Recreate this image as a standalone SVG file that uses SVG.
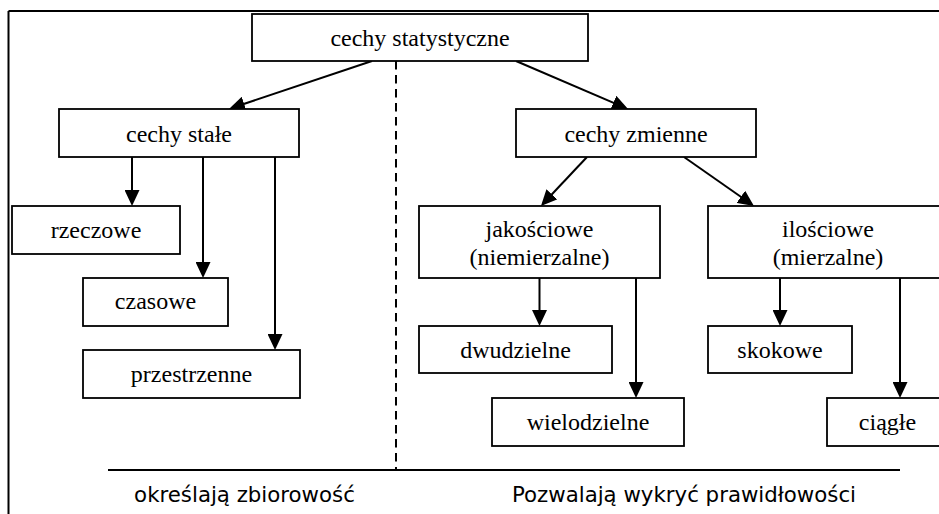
<svg xmlns="http://www.w3.org/2000/svg" width="939" height="514" viewBox="0 0 939 514">
  <style>
    .box { fill: #fff; stroke: #000; stroke-width: 1.8; }
    .lbl { font-size: 24px; fill: #000; text-anchor: middle; }
    .note { font-size: 21.3px; fill: #000; text-anchor: middle; }
    .edge { fill: none; stroke: #000; stroke-width: 2; marker-end: url(#head); }
    .rule { fill: none; stroke: #000; stroke-width: 2; }
  </style>
  <defs>
    <marker id="head" markerUnits="userSpaceOnUse" markerWidth="16" markerHeight="15" refX="13" refY="7.5" orient="auto">
      <path d="M0,0 L16,7.5 L0,15 Z" fill="#000"/>
    </marker>
  </defs>

  <rect width="939" height="514" fill="#fff"/>

  <!-- outer frame (top and left edges) -->
  <g id="frame">
    <line class="rule" x1="8.5" y1="11" x2="939" y2="11"/>
    <line class="rule" x1="8.5" y1="11" x2="8.5" y2="514"/>
  </g>

  <!-- divider and baseline -->
  <g id="dividers">
    <line x1="396" y1="61" x2="396" y2="470" stroke="#000" stroke-width="2" stroke-dasharray="8.5 5.5"/>
    <line class="rule" x1="108" y1="470" x2="900" y2="470"/>
  </g>

  <g id="connectors">
    <line class="edge" x1="372" y1="61" x2="231.8" y2="108"/>
    <line class="edge" x1="516" y1="61" x2="625.3" y2="107.8"/>
    <line class="edge" x1="587" y1="157" x2="543" y2="203.8"/>
    <line class="edge" x1="684" y1="157" x2="751.5" y2="204.3"/>
    <line class="edge" x1="132" y1="157" x2="132" y2="203"/>
    <line class="edge" x1="203" y1="157" x2="203" y2="275"/>
    <line class="edge" x1="275" y1="157" x2="275" y2="347"/>
    <line class="edge" x1="539.5" y1="278" x2="539.5" y2="323"/>
    <line class="edge" x1="636" y1="278" x2="636" y2="395"/>
    <line class="edge" x1="780" y1="278" x2="780" y2="323"/>
    <line class="edge" x1="900" y1="278" x2="900" y2="395"/>
  </g>

  <g id="nodes" font-family="Liberation Serif, Times New Roman, DejaVu Serif, serif">
    <g id="cechy-statystyczne">
      <rect class="box" x="252" y="14" width="336" height="47"/>
      <text class="lbl" x="420" y="45.5">cechy statystyczne</text>
    </g>
    <g id="cechy-stale">
      <rect class="box" x="59" y="109" width="240" height="48"/>
      <text class="lbl" x="179" y="141.5">cechy stałe</text>
    </g>
    <g id="cechy-zmienne">
      <rect class="box" x="516" y="109" width="240" height="48"/>
      <text class="lbl" x="636" y="141.5">cechy zmienne</text>
    </g>
    <g id="rzeczowe">
      <rect class="box" x="12" y="206" width="168" height="48"/>
      <text class="lbl" x="96" y="238">rzeczowe</text>
    </g>
    <g id="czasowe">
      <rect class="box" x="83" y="278" width="145" height="48"/>
      <text class="lbl" x="155.5" y="309">czasowe</text>
    </g>
    <g id="przestrzenne">
      <rect class="box" x="83" y="350" width="217" height="48"/>
      <text class="lbl" x="191.5" y="381.5">przestrzenne</text>
    </g>
    <g id="jakosciowe">
      <rect class="box" x="419" y="206" width="241" height="72"/>
      <text class="lbl" x="539.5" y="237">jakościowe</text>
      <text class="lbl" x="539.5" y="265">(niemierzalne)</text>
    </g>
    <g id="ilosciowe">
      <rect class="box" x="708" y="206" width="240" height="72"/>
      <text class="lbl" x="828" y="237">ilościowe</text>
      <text class="lbl" x="828" y="265">(mierzalne)</text>
    </g>
    <g id="dwudzielne">
      <rect class="box" x="419" y="326" width="193" height="47"/>
      <text class="lbl" x="515.5" y="357.5">dwudzielne</text>
    </g>
    <g id="wielodzielne">
      <rect class="box" x="492" y="398" width="192" height="48"/>
      <text class="lbl" x="588" y="429.5">wielodzielne</text>
    </g>
    <g id="skokowe">
      <rect class="box" x="708" y="326" width="144" height="47"/>
      <text class="lbl" x="780" y="357.5">skokowe</text>
    </g>
    <g id="ciagle">
      <rect class="box" x="827" y="398" width="121" height="48"/>
      <text class="lbl" x="887.5" y="429.5">ciągłe</text>
    </g>
  </g>

  <g id="captions" font-family="DejaVu Sans, Verdana, sans-serif">
    <text class="note" x="244.5" y="502">określają zbiorowość</text>
    <text class="note" x="684" y="502">Pozwalają wykryć prawidłowości</text>
  </g>
</svg>
